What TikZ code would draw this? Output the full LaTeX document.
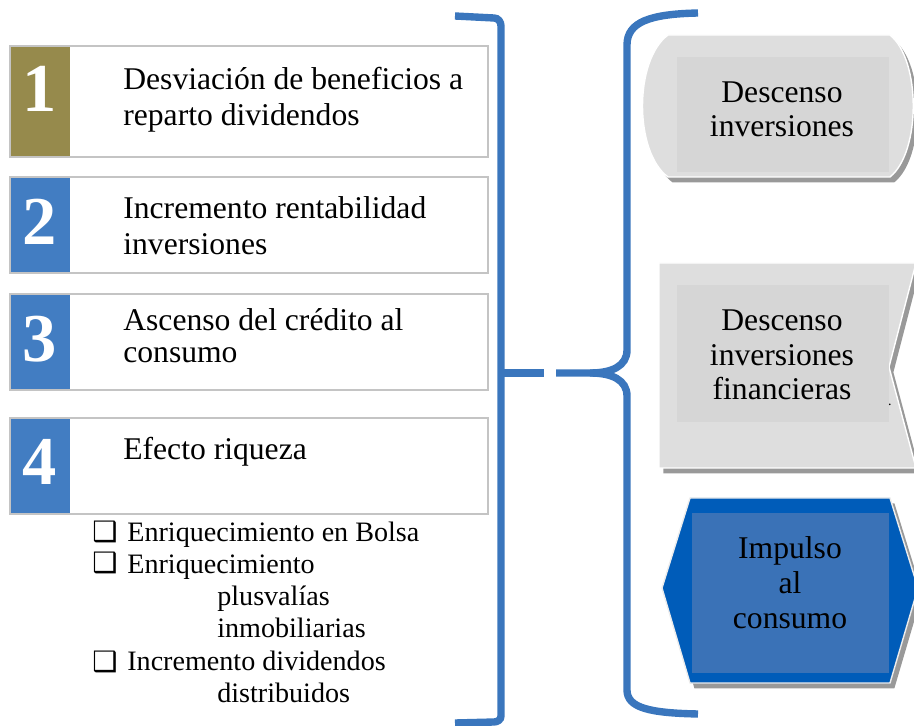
\documentclass[tikz,border=0pt]{standalone}
\usepackage{fontspec}
\setmainfont{Liberation Serif}
\newfontfamily\chkfont{DejaVu Sans}
\usetikzlibrary{shadows}

\definecolor{numolive}{RGB}{150,138,76}
\definecolor{numblue}{RGB}{66,125,194}
\definecolor{boxgray}{RGB}{196,196,196}
\definecolor{braceblue}{RGB}{58,118,189}
\definecolor{shapegray}{RGB}{222,222,222}
\definecolor{innergray}{RGB}{214,214,214}
\definecolor{hexblue}{RGB}{0,92,185}
\definecolor{hexinner}{RGB}{58,114,183}

\tikzset{
  boxline/.style={draw=boxgray, line width=1.4pt},
  numtxt/.style={anchor=base, inner sep=0pt, text=white, font=\fontsize{39}{39}\selectfont\bfseries},
  boxtxt/.style={anchor=base west, align=left, inner sep=0pt, font=\fontsize{18}{21}\selectfont},
  itemtxt/.style={anchor=base west, align=left, inner sep=0pt, font=\fontsize{16}{18.4}\selectfont},
  chk/.style={anchor=base west, inner sep=0pt, font=\chkfont\fontsize{16}{16}\selectfont},
  brace/.style={draw=braceblue, line width=4.2pt},
  shapetxt/.style={anchor=base, align=center, inner sep=0pt, font=\fontsize{18}{19.9}\selectfont},
  shapeshadow/.style={drop shadow={shadow xshift=2.5pt, shadow yshift=-3pt, opacity=.4, fill=black}},
}

\begin{document}
\begin{tikzpicture}[x=0.02cm, y=-0.02cm]
\useasboundingbox (0,0) rectangle (914,726);

% numbered boxes
\foreach \n/\t/\b/\c/\d in {1/46/157/numolive/112, 2/177/273/numblue/245, 3/294/390/numblue/362, 4/418/514/numblue/485}{
  \fill[\c] (10,\t) rectangle (70,\b);
  \draw[boxline] (10,\t) rectangle (488,\b);
  \node[numtxt] (num\n) at (40,\d) {\n};
}
% base = last line
\node[boxtxt] (txt1) at (123,126) {Desviación de beneficios a\\reparto dividendos};
\node[boxtxt] (txt2) at (123,255) {Incremento rentabilidad\\inversiones};
\node[boxtxt] (txt3) at (123,363) {Ascenso del crédito al\\[-2.5pt]consumo};
\node[boxtxt] (txt4) at (123,460) {Efecto riqueza};

% list under box 4
\node[chk] (chk1) at (92,541) {❑};
\node[itemtxt] (item1) at (127,541) {Enriquecimiento en Bolsa};
\node[chk] (chk2) at (92,573) {❑};
\node[itemtxt] (item2) at (127,638) {Enriquecimiento\\\hspace*{1.8cm}plusvalías\\\hspace*{1.8cm}inmobiliarias};
\node[chk] (chk3) at (92,671) {❑};
\node[itemtxt] (item3) at (127,703) {Incremento dividendos\\\hspace*{1.8cm}distribuidos};

% brackets
\draw[brace] (455,16) -- (494,18) to[out=0,in=90] (501,26) -- (501,716) to[out=-90,in=0] (494,722) -- (455,723);
\draw[brace] (501,373) -- (544,373);
\draw[brace] (698,13) .. controls (650,14) and (627,22) .. (627,45) -- (627,350) .. controls (627,366) and (612,373) .. (590,373) -- (556,373);
\draw[brace] (590,373) .. controls (612,373) and (627,380) .. (627,396) -- (627,690) .. controls (627,708) and (650,713) .. (698,714);

% right side shapes
\filldraw[fill=shapegray, draw=white, line width=.8pt, shapeshadow] (668,35) -- (890,35) .. controls (921,60) and (921,152) .. (890,177) -- (668,177) .. controls (634,152) and (634,60) .. (668,35) -- cycle;
\fill[innergray] (677,57) rectangle (889,172);
\node[shapetxt] (inv) at (782,137) {Descenso\\inversiones};

\filldraw[fill=shapegray, draw=white, line width=.8pt, shapeshadow] (659,263) -- (916,263) -- (889,367) -- (916,468) -- (659,468) -- cycle;
\fill[innergray] (677,285) rectangle (889,422);
\node[shapetxt] (fin) at (782,400) {Descenso\\inversiones\\financieras};
\node[inner sep=0pt, font=\fontsize{8}{8}\selectfont] (dot) at (890,405) {.};

\filldraw[fill=hexblue, draw=white!85!gray, line width=.8pt, shapeshadow] (690,498) -- (890,498) -- (918,588) -- (890,683) -- (690,683) -- (662,588) -- cycle;
\fill[hexinner] (692,513) rectangle (889,673);
\node[shapetxt] (imp) at (790,628) {Impulso\\al\\consumo};
\end{tikzpicture}
\end{document}
